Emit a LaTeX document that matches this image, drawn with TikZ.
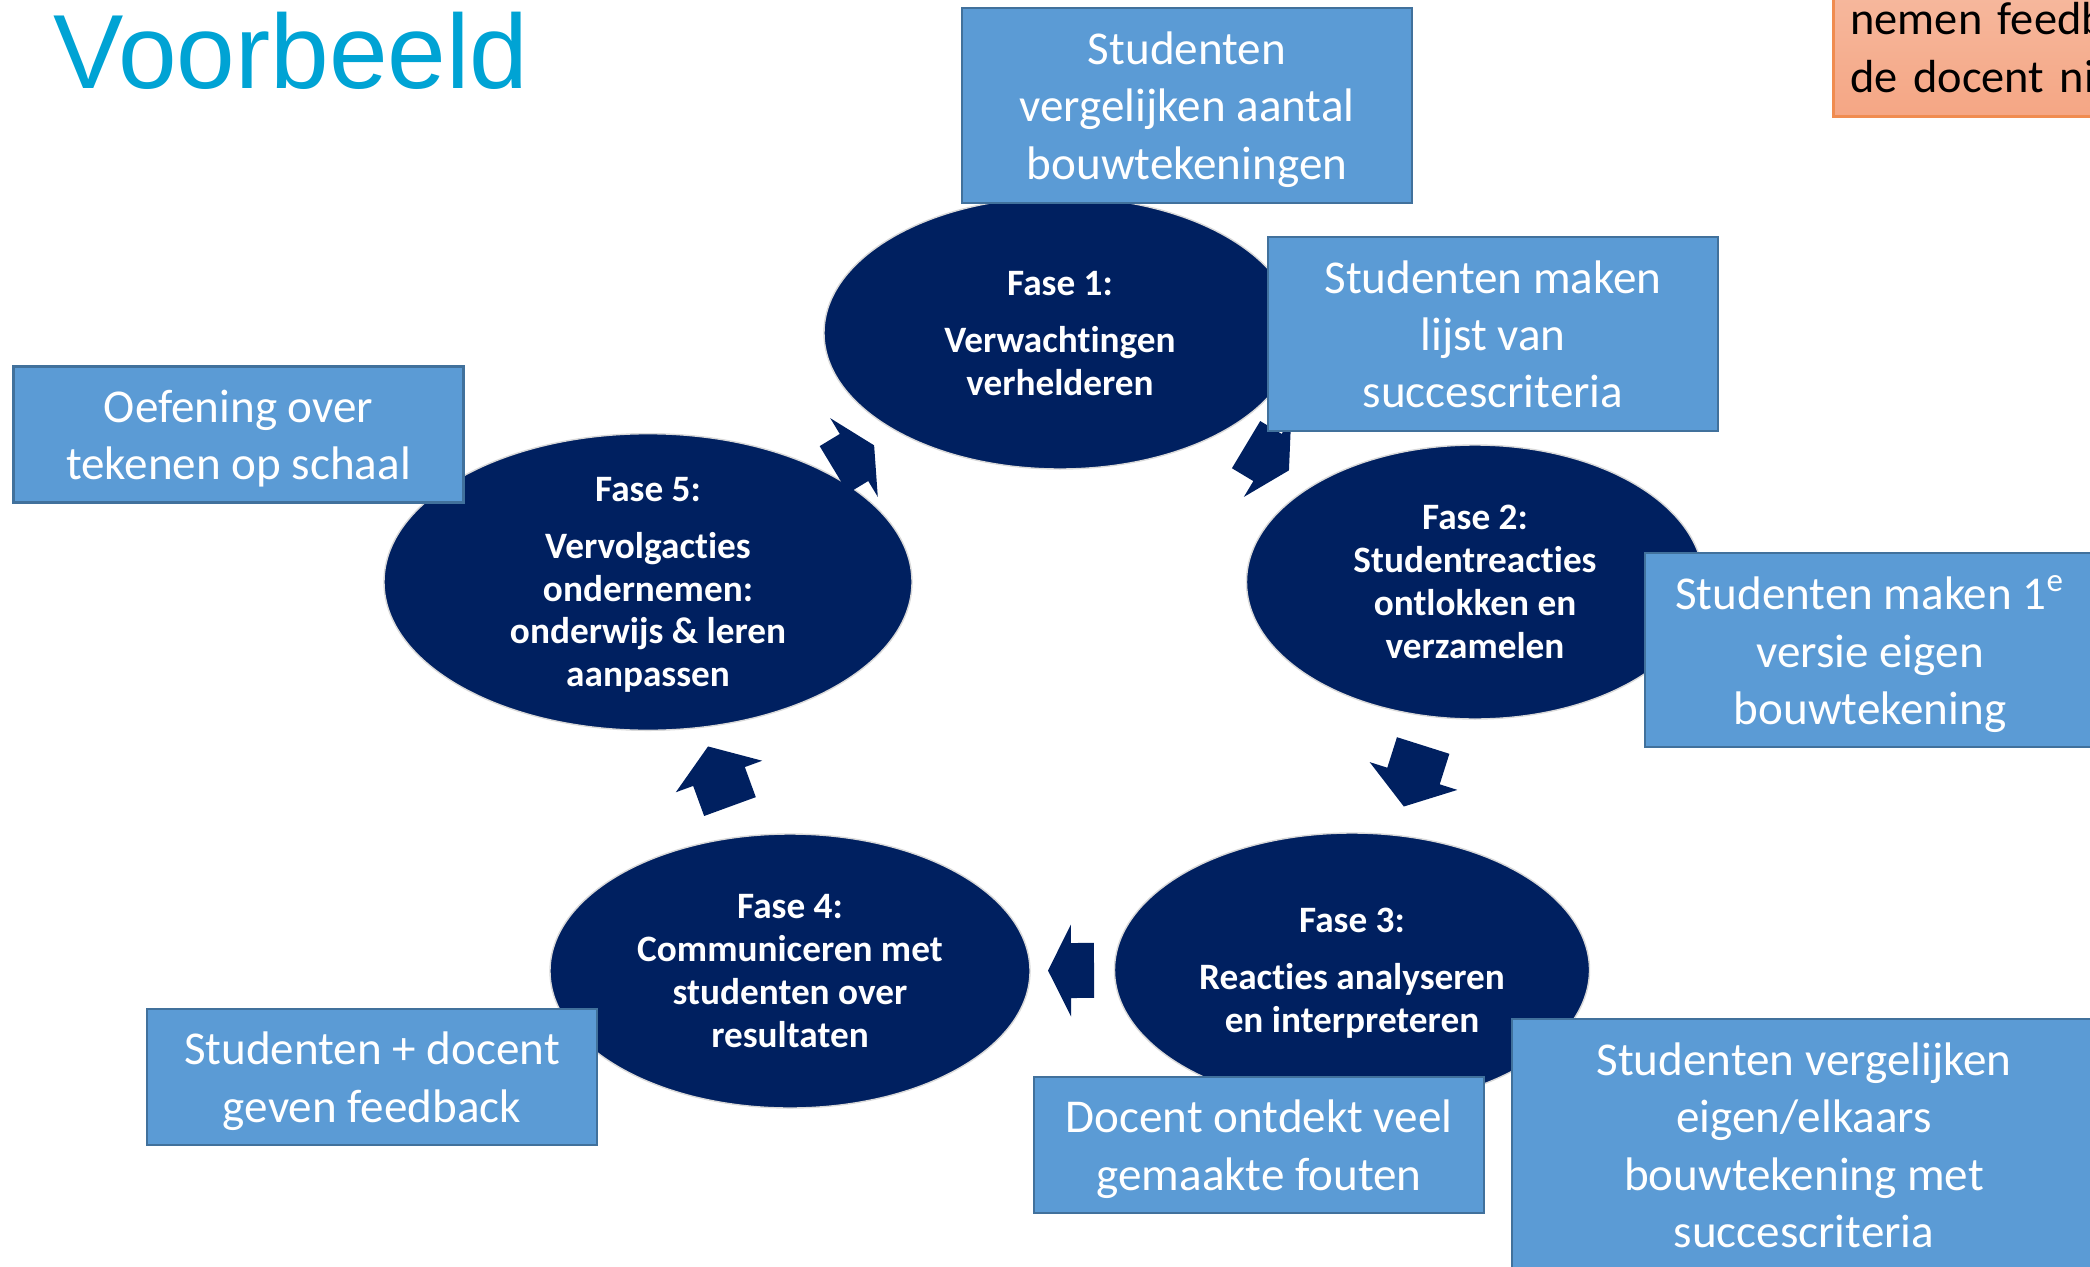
\documentclass[tikz,border=0pt]{standalone}
\usepackage{fontspec}
\setmainfont{Carlito}[Ligatures={NoCommon}]
\newfontfamily\titelfont{Liberation Sans}
\usetikzlibrary{shapes, positioning}

\definecolor{fasekleur}{RGB}{0,32,96}
\definecolor{blokkleur}{RGB}{91,155,213}
\definecolor{blokrand}{RGB}{65,113,156}
\definecolor{titelkleur}{RGB}{0,163,212}
\definecolor{oranjeboven}{RGB}{246,186,160}
\definecolor{oranjeonder}{RGB}{245,166,132}
\definecolor{oranjerand}{RGB}{240,140,80}

\begin{document}
\begin{tikzpicture}[
		fase/.style={ellipse,fill=fasekleur,draw=white!85!black,thin,inner sep=0pt,text=white,text depth=0pt,align=center,font=\fontsize{10.6}{12.2}\selectfont\bfseries},
		blok/.style={rectangle,fill=blokkleur,draw=blokrand,line width=0.8pt,minimum width=4.5cm,inner sep=2pt,text depth=0pt,align=center,text=white,font=\fontsize{13.4}{16.3}\selectfont},
		pijlpos/.style={midway,sloped,allow upside down},
		blokpijl/.pic={\fill[fasekleur] (-#1,-0.275) -- (0,-0.275) -- (0,-0.46) -- (#1,0) -- (0,0.46) -- (0,0.275) -- (-#1,0.275) -- cycle;},
	]
		\clip (0,0) rectangle (20.90,12.66);
		
		\node[anchor=base west, inner sep=0pt, text=titelkleur, font=\titelfont\fontsize{30}{36}\selectfont] (titel) at (0.53,11.78) {Voorbeeld};
		
		% de vijf fasen
		\node[fase,minimum width=4.72cm,minimum height=2.72cm] (f1) at (10.60,9.33) {Fase 1:\\[4pt]Verwachtingen\\verhelderen};
		\node[fase,minimum width=4.57cm,minimum height=2.74cm] (f2) at (14.75,6.84) {Fase 2:\\Studentreacties\\ontlokken en\\verzamelen};
		\node[fase,minimum width=4.75cm,minimum height=2.74cm] (f3) at (13.52,2.96) {Fase 3:\\[4pt]Reacties analyseren\\en interpreteren};
		\node[fase,minimum width=4.80cm,minimum height=2.74cm] (f4) at (7.90,2.95) {Fase 4:\\Communiceren met\\studenten over\\resultaten};
		\node[fase,minimum width=5.28cm,minimum height=2.76cm] (f5) at (6.48,6.84) {Fase 5:\\[4pt]Vervolgacties\\ondernemen:\\onderwijs \& leren\\aanpassen};
		
		\path (f5.center) -- (f1.center) pic[pijlpos] {blokpijl=0.235};
		\path (f1.center) -- (f2.center) pic[pijlpos] {blokpijl=0.25};
		\path (f2.center) -- (f3.center) pic[pijlpos] {blokpijl=0.32};
		\path (f3.center) -- (f4.center) pic[pijlpos] {blokpijl=0.23};
		\path (f4.center) -- (f5.center) pic[pijlpos] {blokpijl=0.32};
		
		% voorbeelden
		\node[blok,minimum height=1.95cm] (A) at (11.87,11.605) {Studenten\\vergelijken aantal\\bouwtekeningen};
		\node[blok,minimum height=1.94cm] (B) at (14.93,9.32) {Studenten maken\\lijst van\\succescriteria};
		\node[blok,minimum height=1.36cm] (C) at (2.385,8.315) {Oefening over\\tekenen op schaal};
		\node[blok,minimum height=1.94cm] (D) at (18.70,6.16) {Studenten maken 1\textsuperscript{e}\\versie eigen\\bouwtekening};
		\node[blok,minimum height=1.36cm] (E) at (3.72,1.89) {Studenten + docent\\geven feedback};
		\node[blok,minimum height=1.36cm] (F) at (12.59,1.21) {Docent ontdekt veel\\gemaakte fouten};
		\node[blok,minimum width=5.84cm,minimum height=2.52cm] (G) at (18.04,1.21) {Studenten vergelijken\\eigen/elkaars\\bouwtekening met\\succescriteria};
		
		\node[rectangle,top color=oranjeboven,bottom color=oranjeonder,draw=oranjerand,line width=0.8pt,anchor=south west,minimum height=1.38cm,text width=2.7cm,inner xsep=0.17cm,align=left,font=\fontsize{13.2}{16.3}\selectfont] (H) at (18.32,11.48) {nemen feedb\\de docent ni};
	\end{tikzpicture}
\end{document}
